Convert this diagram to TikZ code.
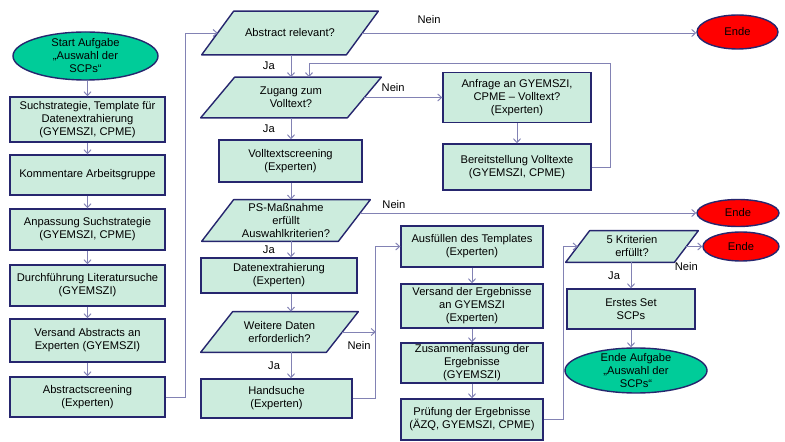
\documentclass[tikz,border=0pt]{standalone}
\usepackage{fontspec}
\setmainfont{Liberation Sans}
\usepackage{tikz}
\usetikzlibrary{arrows.meta,positioning,calc,shapes.geometric,backgrounds}
\newcommand{\pxu}{0.02cm}
\definecolor{boxfill}{RGB}{204,236,221}
\definecolor{boxline}{RGB}{38,38,110}
\definecolor{linecol}{RGB}{130,130,180}
\definecolor{startfill}{RGB}{0,204,153}
\definecolor{endefill}{RGB}{255,0,0}
\tikzset{
    box/.style 2 args={rectangle,draw=boxline,fill=boxfill,line width=.8pt,minimum width=#1*\pxu,minimum height=#2*\pxu,align=center,inner sep=1pt},
    decision/.style 2 args={rectangle,minimum width=#1*\pxu,minimum height=#2*\pxu,align=center,inner sep=1pt},
    decshape/.style={draw=boxline,fill=boxfill,line width=.8pt,line join=round},
    term/.style 2 args={ellipse,draw=boxline,line width=.8pt,minimum width=#1*\pxu,minimum height=#2*\pxu,align=center,inner sep=-2pt},
    startstop/.style 2 args={term={#1}{#2},fill=startfill},
    ende/.style 2 args={term={#1}{#2},fill=endefill},
    arr/.style={->,>={Straight Barb[length=2.2pt,width=4pt]},draw=linecol,line width=.55pt},
    lab/.style={inner sep=1pt},
}
\tikzstyle{every node}=[font=\fontsize{6.35}{7.4}\selectfont]

\begin{document}
\begin{tikzpicture}[x=0.02cm,y=-0.02cm]
    \useasboundingbox (0,0) rectangle (785,442);
    % left column
    \node[startstop={145}{48}] (start) at (85.5,56) {Start Aufgabe\\„Auswahl der\\SCPs“};
    \node[box={155}{45}] (suche) at (87.5,119.5) {Suchstrategie, Template für\\Datenextrahierung\\(GYEMSZI, CPME)};
    \node[box={155}{40}] (komm) at (87.5,175) {Kommentare Arbeitsgruppe};
    \node[box={155}{41}] (anp) at (87.5,229.5) {Anpassung Suchstrategie\\(GYEMSZI, CPME)};
    \node[box={155}{41}] (durch) at (87.5,285.5) {Durchführung Literatursuche\\(GYEMSZI)};
    \node[box={155}{43}] (versabs) at (87.5,340.5) {Versand Abstracts an\\Experten (GYEMSZI)};
    \node[box={155}{40}] (absscr) at (87.5,397) {Abstractscreening\\(Experten)};
    % centre column
    \coordinate (cx) at (291,0);
    \node[decision={144}{43}] (abs) at (290,33) {Abstract relevant?};
    \node[decision={146}{40}] (zug) at (291,97.5) {Zugang zum\\Volltext?};
    \node[box={143}{42}] (vts) at (290.5,161) {Volltextscreening\\(Experten)};
    \node[decision={136}{41}] (ps) at (286,220.5) {PS-Maßnahme\\erfüllt\\Auswahlkriterien?};
    \node[box={156}{35}] (datex) at (279,275.5) {Datenextrahierung\\(Experten)};
    \node[decision={125}{40}] (wei) at (279.5,332) {Weitere Daten\\erforderlich?};
    \node[box={151}{39}] (hand) at (276.5,398.5) {Handsuche\\(Experten)};
    % full text request
    \node[box={148}{50}] (anfrage) at (517,97.5) {Anfrage an GYEMSZI,\\CPME – Volltext?\\(Experten)};
    \node[box={148}{46}] (bereit) at (517,167) {Bereitstellung Volltexte\\(GYEMSZI, CPME)};
    % results
    \node[box={142}{41}] (ausf) at (472,246.5) {Ausfüllen des Templates\\(Experten)};
    \node[box={142}{44}] (verserg) at (472,306) {Versand der Ergebnisse\\an GYEMSZI\\(Experten)};
    \node[box={142}{40}] (zus) at (472,363) {Zusammenfassung der\\Ergebnisse\\(GYEMSZI)};
    \node[box={142}{41}] (pruef) at (472,419.5) {Prüfung der Ergebnisse\\(ÄZQ, GYEMSZI, CPME)};
    % right column
    \node[decision={108}{31}] (krit) at (632,246.5) {5 Kriterien\\erfüllt?};
    \node[box={128}{40}] (erstes) at (631,309) {Erstes Set\\SCPs};
    \node[startstop={142}{45}] (endauf) at (636,370.5) {Ende Aufgabe\\„Auswahl der\\SCPs“};
    \node[ende={81}{34}] (ende1) at (737.5,32) {Ende};
    \node[ende={82}{27}] (ende2) at (738,213) {Ende};
    \node[ende={76}{29}] (ende3) at (741,246.5) {Ende};

    \begin{scope}[on background layer]
        \foreach \n/\s in {abs/16,zug/17,ps/16,wei/16,krit/12}
            \draw[decshape] ($(\n.south west)+(-\s,0)$) -- ($(\n.north west)+(\s,0)$) -- ($(\n.north east)+(\s,0)$) -- ($(\n.south east)+(-\s,0)$) -- cycle;
    \end{scope}

    % connectors
    \draw[arr] (start.south -| suche.north) -- (suche.north);
    \draw[arr] (suche) -- (komm);
    \draw[arr] (komm) -- (anp);
    \draw[arr] (anp) -- (durch);
    \draw[arr] (durch) -- (versabs);
    \draw[arr] (versabs) -- (absscr);
    \draw[arr] (absscr.east) -- ++(20,0) |- (abs.west);
    \draw[arr] (abs.east) -- (abs.east -| ende1.west) node[lab,pos=.2,above=4pt] {Nein};
    \draw[arr] (abs.south -| cx) -- (zug.north -| cx) node[lab,midway,left=8pt] {Ja};
    \draw[arr] (zug.east) -- (anfrage.west) node[lab,pos=.37,above=2pt] {Nein};
    \draw[arr] (anfrage) -- (bereit);
    \coordinate (zugin) at (309,63);
    \draw[arr] (bereit.east) -- ++(19,0) |- (zugin) -- (zugin |- zug.north);
    \draw[arr] (zug.south -| cx) -- (vts.north -| cx) node[lab,midway,left=8pt] {Ja};
    \draw[arr] (vts.south -| cx) -- (ps.north -| cx);
    \draw[arr] ($(ps.east)+(6,-7.5)$) -- (ende2.west) node[lab,pos=.1,above=1pt] {Nein};
    \draw[arr] (ps.south -| cx) -- (datex.north -| cx) node[lab,midway,left=8pt] {Ja};
    \draw[arr] (datex.south -| cx) -- (wei.north -| cx);
    \draw[arr] (wei.south -| cx) -- (hand.north -| cx) node[lab,midway,left=5pt] {Ja};
    \coordinate (merge) at ($(hand.east)+(23,0)$);
    \draw[arr] (hand.east) -- (merge) |- (ausf.west);
    \draw[arr] (wei.east) -- (wei.east -| merge) node[lab,midway,below=4pt] {Nein};
    \draw[arr] (ausf) -- (verserg);
    \draw[arr] (verserg) -- (zus);
    \draw[arr] (zus) -- (pruef);
    \draw[arr] (pruef.east) -- ++(20,0) |- (krit.west);
    \draw[arr] (krit.east) -- (ende3.west) node[lab,at start,anchor=north,yshift=-8pt] {Nein};
    \draw[arr] (krit.south -| erstes.north) -- (erstes.north) node[lab,midway,left=5pt] {Ja};
    \draw[arr] (erstes.south) -- (erstes.south |- endauf.north);
\end{tikzpicture}
\end{document}
